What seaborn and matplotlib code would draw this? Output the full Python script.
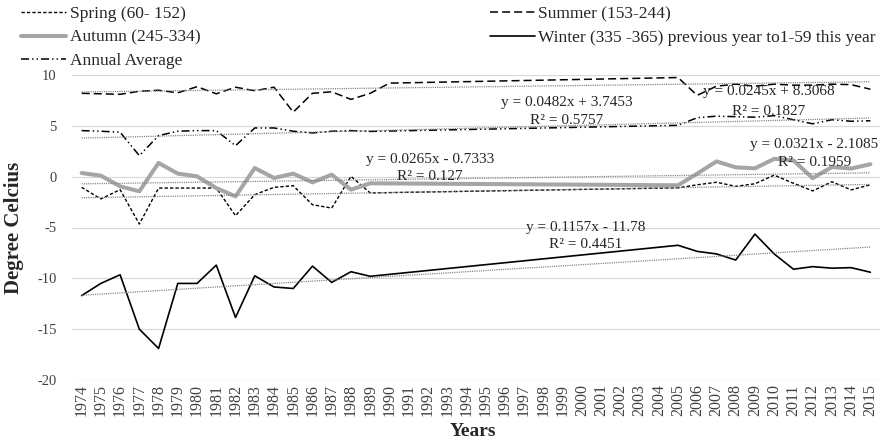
import matplotlib
matplotlib.use("Agg")
import matplotlib.pyplot as plt
import seaborn as sns
import pandas as pd

# ---------------- data ----------------
years_main = list(range(1974, 1990)) + list(range(2005, 2016))
years_summer = list(range(1974, 1991)) + list(range(2005, 2016))

spring = [-1.05, -2.19, -1.28, -4.66, -1.12, -1.12, -1.12, -1.12, -3.84, -1.77,
          -1.05, -0.89, -2.76, -3.09, 0.03, -1.6,
          -1.1, -0.8, -0.55, -0.95, -0.7, 0.15, -0.65, -1.4, -0.5, -1.3, -0.8]
summer = [8.2, 8.15, 8.1, 8.4, 8.5, 8.25, 8.85, 8.15, 8.8, 8.45,
          8.8, 6.35, 8.2, 8.35, 7.6, 8.2, 9.2,
          9.75, 8.0, 8.9, 9.1, 8.9, 9.1, 9.0, 9.0, 9.1, 9.05, 8.6]
autumn = [0.36, 0.1, -0.95, -1.44, 1.35, 0.3, 0.03, -1.12, -1.94, 0.85,
          -0.13, 0.3, -0.56, 0.2, -1.28, -0.65,
          -0.85, 0.3, 1.5, 0.92, 0.82, 1.75, 1.6, -0.15, 0.95, 0.8, 1.22]
winter = [-11.7, -10.5, -9.65, -15.0, -16.9, -10.5, -10.5, -8.7, -13.85, -9.75,
          -10.85, -11.0, -8.8, -10.4, -9.35, -9.8,
          -6.75, -7.35, -7.6, -8.2, -5.65, -7.6, -9.1, -8.85, -9.0, -8.95, -9.4]
annual = [4.53, 4.47, 4.37, 2.07, 4.04, 4.47, 4.53, 4.53, 3.05, 4.79,
          4.79, 4.47, 4.3, 4.47, 4.53, 4.45,
          5.05, 5.8, 5.95, 5.9, 5.85, 6.0, 5.6, 5.2, 5.6, 5.45, 5.5]

series_names = ["Spring (60- 152)", "Summer (153-244)", "Autumn (245-334)",
                "Winter (335 -365) previous year to1-59 this year", "Annual Average"]

# trendline equations as printed (x = 1 for 1974)
trend_slopes = [0.0321, 0.0245, 0.0265, 0.1157, 0.0482]
trend_intercepts = [-2.1085, 8.3068, -0.7333, -11.78, 3.7453]
trend_r2 = ["0.1959", "0.1827", "0.127", "0.4451", "0.5757"]
trend_eq = ["y = 0.0321x - 2.1085", "y = 0.0245x + 8.3068", "y = 0.0265x - 0.7333",
            "y = 0.1157x - 11.78", "y = 0.0482x + 3.7453"]
# label anchor positions (year, value)
eq_pos = [(2012.1, 3.15), (2009.7, 8.37), (1992.1, 1.67), (2000.2, -5.02), (1999.2, 7.29)]
r2_pos = [(2012.1, 1.38), (2009.7, 6.40), (1992.1, 0.0), (2000.2, -6.70), (1999.2, 5.52)]

tick_years = list(range(1974, 2016))

# ---------------- style ----------------
sns.set_style("white")
plt.rcParams["font.family"] = ["Liberation Serif", "DejaVu Serif"]
plt.rcParams["lines.scale_dashes"] = False
plt.rcParams["axes.unicode_minus"] = False

fig = plt.figure(figsize=(8.81, 4.43), dpi=100)
ax = fig.add_axes([72 / 881, 1 - 380 / 443, 808 / 881, 305 / 443])

styles = [
    dict(color="black", linewidth=1.0, linestyle=(0, (2.4, 1.5))),
    dict(color="black", linewidth=1.1, linestyle=(0, (5.8, 2.9))),
    dict(color="#a5a5a5", linewidth=2.9, linestyle="-"),
    dict(color="black", linewidth=1.2, linestyle="-"),
    dict(color="black", linewidth=1.1, linestyle=(0, (5.8, 2.2, 1.0, 2.2, 1.0, 2.2))),
]
values = [spring, summer, autumn, winter, annual]
xs = [years_main, years_summer, years_main, years_main, years_main]

handles = []
for name, x, v, st in zip(series_names, xs, values, styles):
    df = pd.DataFrame({"year": x, "value": v})
    sns.lineplot(data=df, x="year", y="value", ax=ax, label=name, zorder=3, **st)
    handles.append(ax.get_lines()[-1])

for s, b, eq, r2, ep, rp in zip(trend_slopes, trend_intercepts, trend_eq, trend_r2, eq_pos, r2_pos):
    tx = [tick_years[0], tick_years[-1]]
    ty = [s * (t - 1973) + b for t in tx]
    sns.lineplot(x=tx, y=ty, ax=ax, color="#7f7f7f", linewidth=0.9,
                 linestyle=(0, (0.8, 0.8)), zorder=4, legend=False)
    ax.text(ep[0], ep[1], eq, ha="center", va="center", fontsize=11, color="#262626", zorder=5)
    ax.text(rp[0], rp[1], "R² = " + r2, ha="center", va="center", fontsize=11, color="#262626", zorder=5)

if ax.get_legend() is not None:
    ax.get_legend().remove()

ax.set_xlim(1973.5, 2015.5)
ax.set_ylim(-20, 10)
ax.set_yticks([-20, -15, -10, -5, 0, 5, 10])
ax.set_xticks(tick_years)
ax.set_xticklabels([str(y) for y in tick_years], rotation=90, fontsize=11.5)
ax.tick_params(axis="y", length=0, pad=11, labelsize=10.5, labelcolor="#404040")
ax.tick_params(axis="x", length=0, pad=3, labelcolor="#404040")
for sp in ax.spines.values():
    sp.set_visible(False)
ax.yaxis.grid(True, color="#d9d9d9", linewidth=0.9)
ax.xaxis.grid(False)
ax.set_axisbelow(True)
ax.set_xlabel("")
ax.set_ylabel("")

fig.text(14 / 881, 1 - 228 / 443, "Degree Celcius", rotation=90, ha="center", va="center",
         fontsize=15, fontweight="bold")
fig.text(473 / 881, 1 - 432 / 443, "Years", ha="center", va="center",
         fontsize=14, fontweight="bold")

order = [0, 2, 4, 1, 3]
fig.legend([handles[i] for i in order], [series_names[i] for i in order],
           ncol=2, mode="expand", loc="upper left",
           bbox_to_anchor=(21 / 881, 1 - 6 / 443, (876 - 21) / 881, 0.0),
           frameon=False, fontsize=12.5, handlelength=2.6, handletextpad=0.2,
           labelspacing=0.42, borderpad=0, borderaxespad=0)

fig.savefig("out.png", dpi=100)
